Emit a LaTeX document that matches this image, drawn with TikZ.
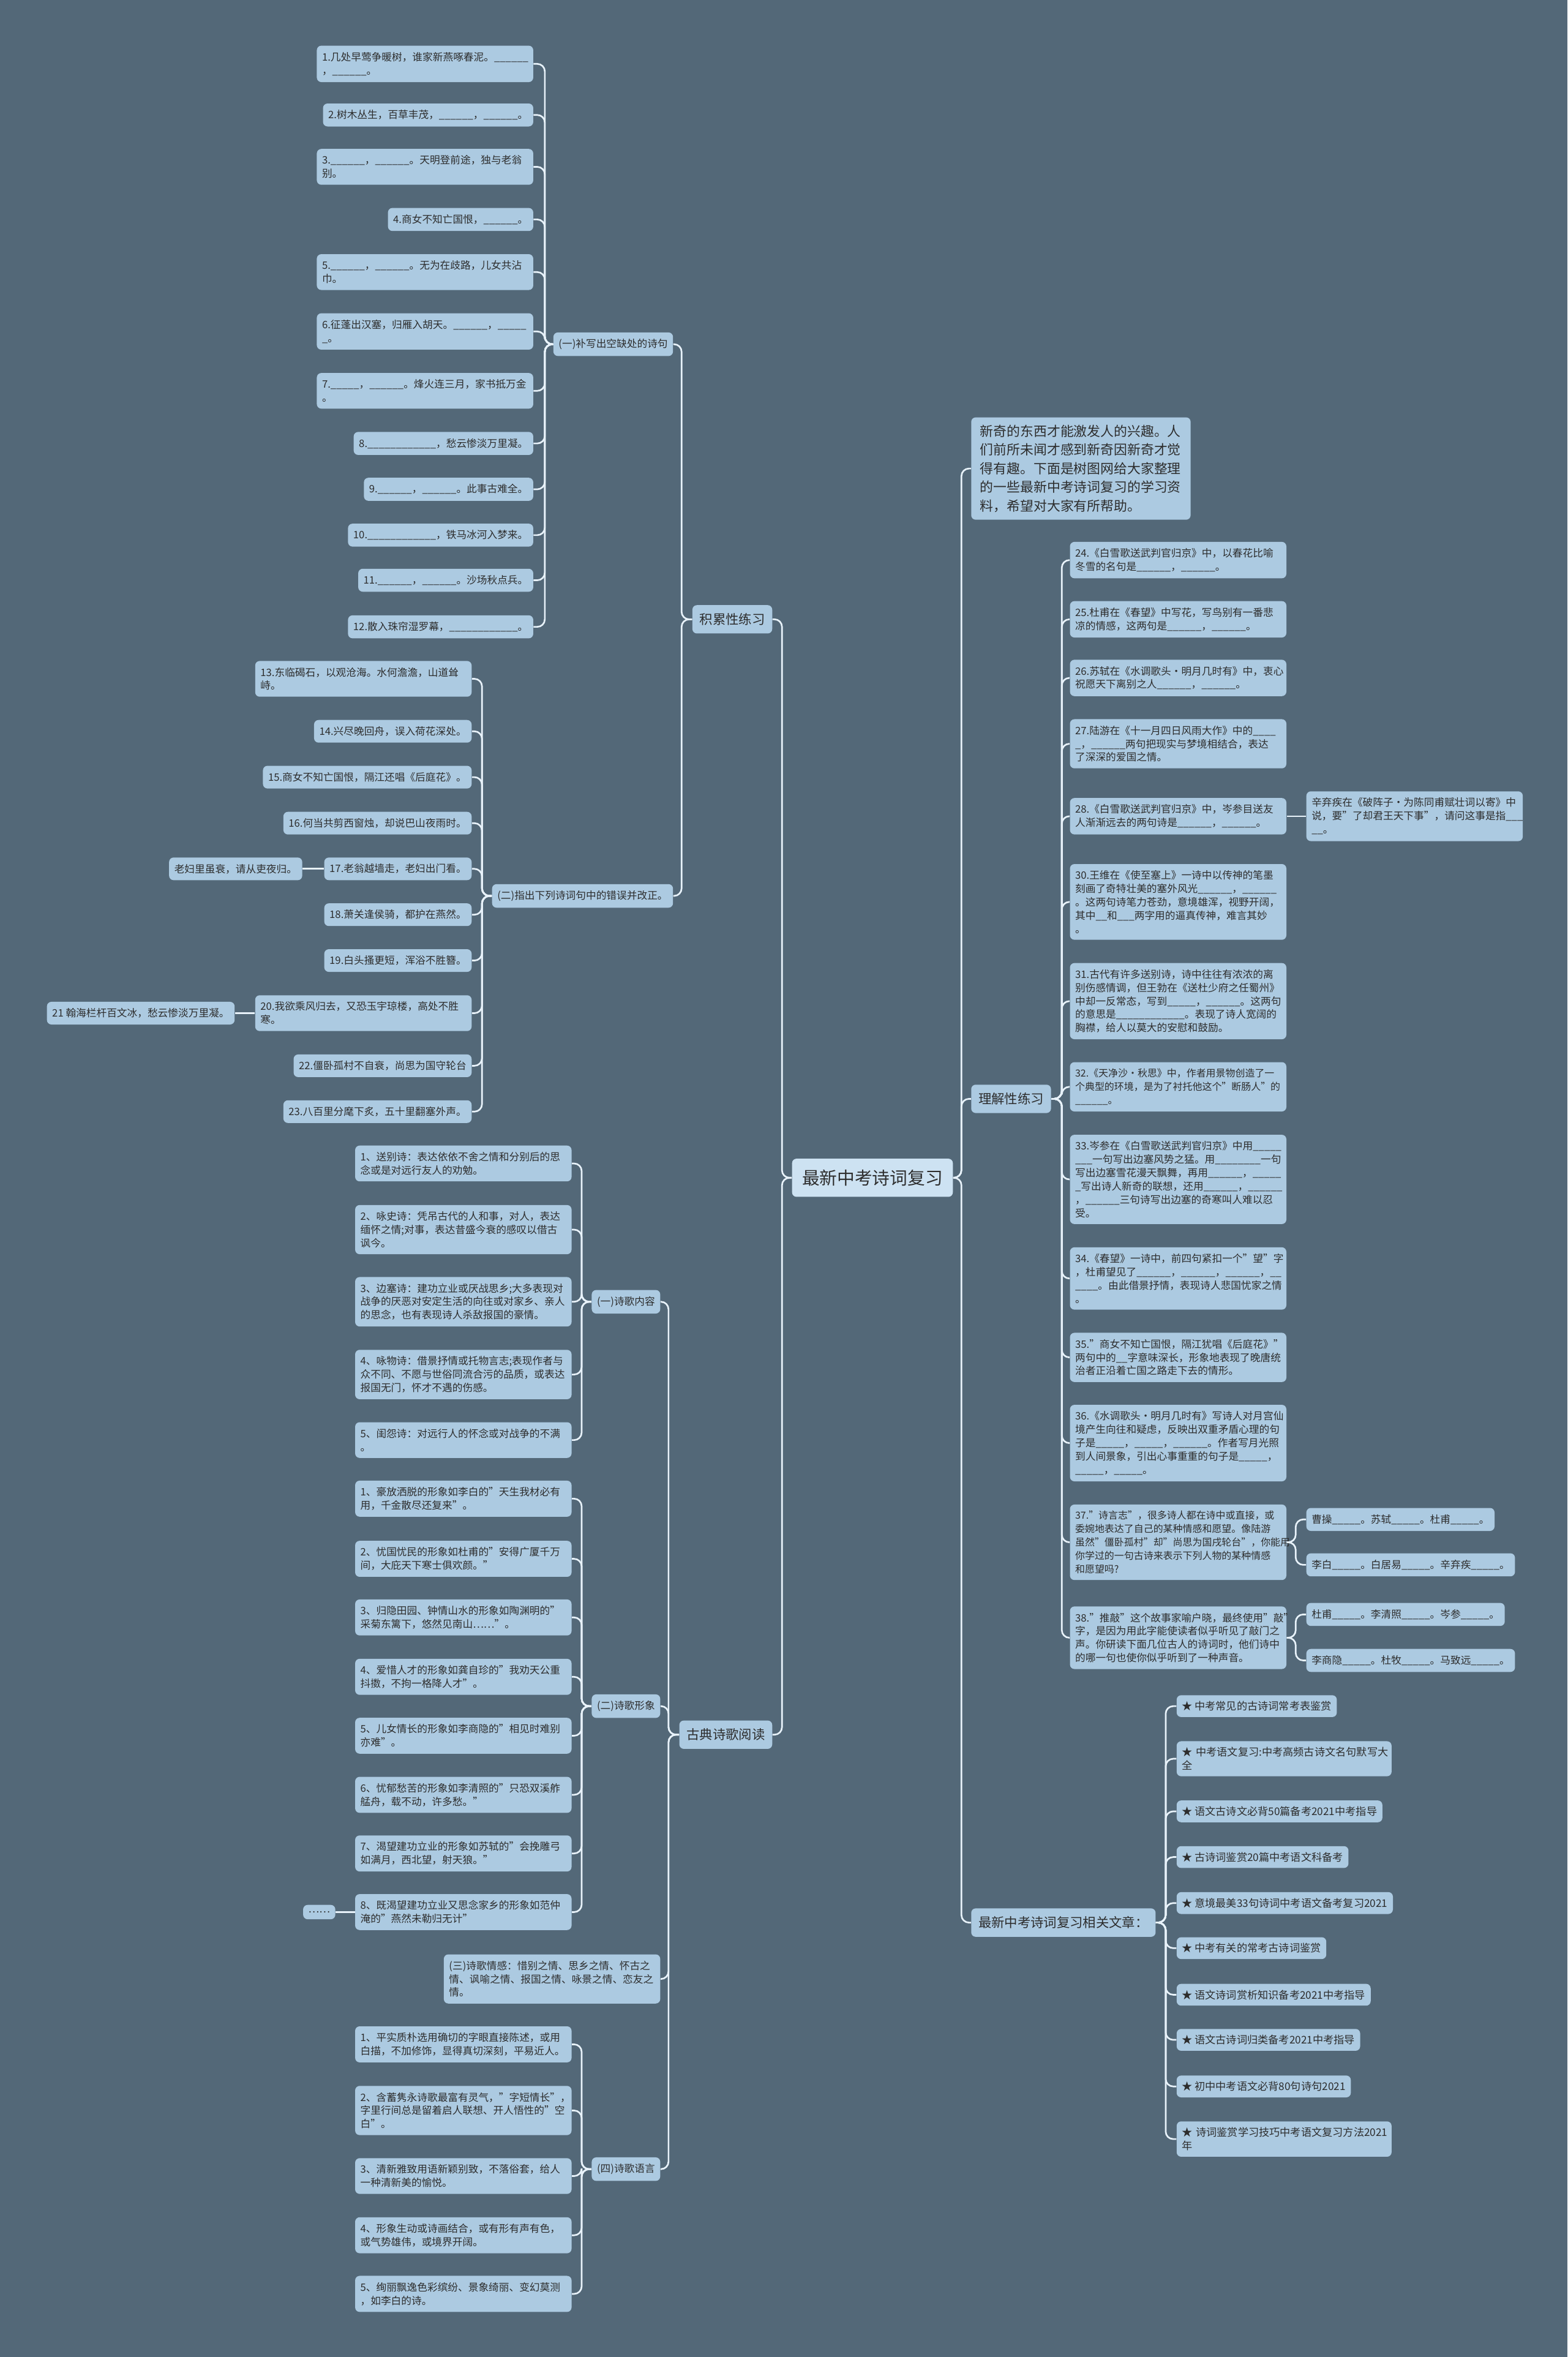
\documentclass[tikz,border=0pt]{standalone}
\usepackage{fontspec}
\setmainfont{Noto Sans CJK SC}
\definecolor{bgc}{RGB}{83,104,120}
\definecolor{boxc}{RGB}{172,202,225}
\definecolor{rootc}{RGB}{205,226,242}
\definecolor{linec}{RGB}{232,242,250}
\definecolor{txtc}{RGB}{45,45,45}
\tikzset{
	box/.style={fill=boxc, text=txtc, rounded corners=3pt, align=left, inner xsep=3.5pt, inner ysep=4.3pt, font=\fontsize{6.8}{8.9}\selectfont},
	wide/.style={box, text width=137pt},
	tight/.style={font=\fontsize{6.5}{8.9}\selectfont},
	topic/.style={box, inner xsep=4.8pt, inner ysep=5.4pt, font=\fontsize{8.7}{11}\selectfont},
	root/.style={box, fill=rootc, inner xsep=6.7pt, inner ysep=7.3pt, font=\fontsize{11.7}{14}\selectfont},
	prebox/.style={box, text width=134pt, inner xsep=6pt, inner ysep=5pt, font=\fontsize{8.9}{12.4}\selectfont},
	linkbox/.style={box, inner ysep=4pt, font=\fontsize{7}{9}\selectfont},
	conn/.style={color=linec, line width=1.1pt},
	lb/.style={rounded corners=5pt, to path={-- ++(-#1,0) |- (\tikztotarget)}},
	rb/.style={rounded corners=5pt, to path={-- ++(#1,0) |- (\tikztotarget)}},
	lb/.default=6.5, rb/.default=6.5,
}
\begin{document}
\catcode`\_=12
\begin{tikzpicture}[x=1pt, y=-1pt]
	\fill[bgc] (0,0) rectangle (1043,1568);
	\useasboundingbox (0,0) rectangle (1043,1568);

	\node[root] (zx) at (580.5,783.5) {最新中考诗词复习};
	\node[topic, anchor=east] (jl) at (514,412) {积累性练习};
	\node[topic, anchor=east] (gd) at (514,1154) {古典诗歌阅读};
	\node[prebox, anchor=west] (qy) at (646,311.7) {新奇的东西才能激发人的兴趣。人\\们前所未闻才感到新奇因新奇才觉\\得有趣。下面是树图网给大家整理\\的一些最新中考诗词复习的学习资\\料，希望对大家有所帮助。};
	\node[topic, anchor=west] (lj) at (646,731) {理解性练习};
	\node[topic, anchor=west] (xg) at (646,1279) {最新中考诗词复习相关文章：};

	\node[box, anchor=east] (bx) at (448,229) {(一)补写出空缺处的诗句};
	\node[box, anchor=east] (zc) at (448,596) {(二)指出下列诗词句中的错误并改正。};

	\node[wide, anchor=east] (b1) at (355,42.5) {1.几处早莺争暖树，谁家新燕啄春泥。______\\，______。};
	\node[box, anchor=east] (b2) at (355,76.5) {2.树木丛生，百草丰茂，______，______。};
	\node[wide, anchor=east] (b3) at (355,111) {3.______，______。天明登前途，独与老翁\\别。};
	\node[box, anchor=east] (b4) at (355,146) {4.商女不知亡国恨，______。};
	\node[wide, anchor=east] (b5) at (355,181) {5.______，______。无为在歧路，儿女共沾\\巾。};
	\node[wide, anchor=east] (b6) at (355,220.5) {6.征蓬出汉塞，归雁入胡天。______，_____\\_。};
	\node[wide, anchor=east] (b7) at (355,260) {7._____，______。烽火连三月，家书抵万金\\。};
	\node[box, anchor=east] (b8) at (355,295) {8.____________，愁云惨淡万里凝。};
	\node[box, anchor=east] (b9) at (355,325.5) {9.______，______。此事古难全。};
	\node[box, anchor=east] (b10) at (355,356) {10.____________，铁马冰河入梦来。};
	\node[box, anchor=east] (b11) at (355,386) {11.______，______。沙场秋点兵。};
	\node[box, anchor=east] (b12) at (355,417) {12.散入珠帘湿罗幕，____________。};

	\node[wide, anchor=east] (z13) at (314,451.6) {13.东临碣石，以观沧海。水何澹澹，山道耸\\峙。};
	\node[box, anchor=east] (z14) at (314,486.5) {14.兴尽晚回舟，误入荷花深处。};
	\node[box, anchor=east] (z15) at (314,517) {15.商女不知亡国恨，隔江还唱《后庭花》。};
	\node[box, anchor=east] (z16) at (314,547.6) {16.何当共剪西窗烛，却说巴山夜雨时。};
	\node[box, anchor=east] (z17) at (314,578) {17.老翁越墙走，老妇出门看。};
	\node[box, anchor=east] (k17) at (201.3,578) {老妇里虽衰，请从吏夜归。};
	\node[box, anchor=east] (z18) at (314,608.5) {18.萧关逢侯骑，都护在燕然。};
	\node[box, anchor=east] (z19) at (314,639) {19.白头搔更短，浑浴不胜簪。};
	\node[wide, anchor=east] (z20) at (314,674) {20.我欲乘风归去，又恐玉宇琼楼，高处不胜\\寒。};
	\node[box, anchor=east] (k20) at (156.3,674) {21 翰海栏杆百文冰，愁云惨淡万里凝。};
	\node[box, anchor=east] (z22) at (314,709) {22.僵卧孤村不自衰，尚思为国守轮台};
	\node[box, anchor=east] (z23) at (314,739.5) {23.八百里分麾下炙，五十里翻塞外声。};

	\node[box, anchor=east] (nr) at (439.5,866) {(一)诗歌内容};
	\node[box, anchor=east] (xx) at (439.5,1135) {(二)诗歌形象};
	\node[wide, anchor=east] (qg) at (439.5,1316.5) {(三)诗歌情感：惜别之情、思乡之情、怀古之\\情、讽喻之情、报国之情、咏景之情、恋友之\\情。};
	\node[box, anchor=east] (yy) at (439.5,1443) {(四)诗歌语言};

	\node[wide, anchor=east] (n1) at (380.5,774) {1、送别诗：表达依依不舍之情和分别后的思\\念或是对远行友人的劝勉。};
	\node[wide, anchor=east] (n2) at (380.5,818) {2、咏史诗：凭吊古代的人和事，对人，表达\\缅怀之情;对事，表达昔盛今衰的感叹以借古\\讽今。};
	\node[wide, anchor=east] (n3) at (380.5,866) {3、边塞诗：建功立业或厌战思乡;大多表现对\\战争的厌恶对安定生活的向往或对家乡、亲人\\的思念，也有表现诗人杀敌报国的豪情。};
	\node[wide, anchor=east] (n4) at (380.5,914.4) {4、咏物诗：借景抒情或托物言志;表现作者与\\众不同、不愿与世俗同流合污的品质，或表达\\报国无门，怀才不遇的伤感。};
	\node[wide, anchor=east] (n5) at (380.5,958) {5、闺怨诗：对远行人的怀念或对战争的不满\\。};

	\node[wide, anchor=east] (x1) at (380.5,997) {1、豪放洒脱的形象如李白的"天生我材必有\\用，千金散尽还复来"。};
	\node[wide, anchor=east] (x2) at (380.5,1037) {2、忧国忧民的形象如杜甫的"安得广厦千万\\间，大庇天下寒士俱欢颜。"};
	\node[wide, anchor=east] (x3) at (380.5,1076) {3、归隐田园、钟情山水的形象如陶渊明的"\\采菊东篱下，悠然见南山……"。};
	\node[wide, anchor=east] (x4) at (380.5,1115.5) {4、爱惜人才的形象如龚自珍的"我劝天公重\\抖擞，不拘一格降人才"。};
	\node[wide, anchor=east] (x5) at (380.5,1154.7) {5、儿女情长的形象如李商隐的"相见时难别\\亦难"。};
	\node[wide, anchor=east] (x6) at (380.5,1194) {6、忧郁愁苦的形象如李清照的"只恐双溪舴\\艋舟，载不动，许多愁。"};
	\node[wide, anchor=east] (x7) at (380.5,1233) {7、渴望建功立业的形象如苏轼的"会挽雕弓\\如满月，西北望，射天狼。"};
	\node[wide, anchor=east] (x8) at (380.5,1272) {8、既渴望建功立业又思念家乡的形象如范仲\\淹的"燕然未勒归无计"};
	\node[box, anchor=east] (xd) at (223.3,1272) {……};

	\node[wide, anchor=east] (y1) at (380.5,1360) {1、平实质朴选用确切的字眼直接陈述，或用\\白描，不加修饰，显得真切深刻，平易近人。};
	\node[wide, anchor=east] (y2) at (380.5,1404) {2、含蓄隽永诗歌最富有灵气，"字短情长"，\\字里行间总是留着启人联想、开人悟性的"空\\白"。};
	\node[wide, anchor=east] (y3) at (380.5,1447.6) {3、清新雅致用语新颖别致，不落俗套，给人\\一种清新美的愉悦。};
	\node[wide, anchor=east] (y4) at (380.5,1487) {4、形象生动或诗画结合，或有形有声有色，\\或气势雄伟，或境界开阔。};
	\node[wide, anchor=east] (y5) at (380.5,1526) {5、绚丽飘逸色彩缤纷、景象绮丽、变幻莫测\\，如李白的诗。};

	\node[wide, anchor=west] (l24) at (711.7,372.6) {24.《白雪歌送武判官归京》中，以春花比喻\\冬雪的名句是______，______。};
	\node[wide, anchor=west] (l25) at (711.7,412) {25.杜甫在《春望》中写花，写鸟别有一番悲\\凉的情感，这两句是______，______。};
	\node[wide, anchor=west] (l26) at (711.7,451) {26.苏轼在《水调歌头·明月几时有》中，衷心\\祝愿天下离别之人______，______。};
	\node[wide, anchor=west] (l27) at (711.7,494.8) {27.陆游在《十一月四日风雨大作》中的____\\_，______两句把现实与梦境相结合，表达\\了深深的爱国之情。};
	\node[wide, anchor=west] (l28) at (711.7,543) {28.《白雪歌送武判官归京》中，岑参目送友\\人渐渐远去的两句诗是______，______。};
	\node[wide, anchor=west] (l28a) at (869,543) {辛弃疾在《破阵子·为陈同甫赋壮词以寄》中\\说，要"了却君王天下事"，请问这事是指___\\__。};
	\node[wide, anchor=west] (l30) at (711.7,600) {30.王维在《使至塞上》一诗中以传神的笔墨\\刻画了奇特壮美的塞外风光______，______\\。这两句诗笔力苍劲，意境雄浑，视野开阔，\\其中__和___两字用的逼真传神，难言其妙\\。};
	\node[wide, anchor=west] (l31) at (711.7,666) {31.古代有许多送别诗，诗中往往有浓浓的离\\别伤感情调，但王勃在《送杜少府之任蜀州》\\中却一反常态，写到_____，______。这两句\\的意思是____________。表现了诗人宽阔的\\胸襟，给人以莫大的安慰和鼓励。};
	\node[wide, tight, anchor=west] (l32) at (711.7,723) {32.《天净沙·秋思》中，作者用景物创造了一\\个典型的环境，是为了衬托他这个"断肠人"的\\______。};
	\node[wide, anchor=west] (l33) at (711.7,784.6) {33.岑参在《白雪歌送武判官归京》中用_____\\___一句写出边塞风势之猛。用________一句\\写出边塞雪花漫天飘舞，再用______，_____\\_写出诗人新奇的联想，还用______，______\\，______三句诗写出边塞的奇寒叫人难以忍\\受。};
	\node[wide, anchor=west] (l34) at (711.7,850.5) {34.《春望》一诗中，前四句紧扣一个"望"字\\，杜甫望见了______，______，______，__\\____。由此借景抒情，表现诗人悲国忧家之情\\。};
	\node[wide, anchor=west] (l35) at (711.7,903) {35."商女不知亡国恨，隔江犹唱《后庭花》"\\两句中的__字意味深长，形象地表现了晚唐统\\治者正沿着亡国之路走下去的情形。};
	\node[wide, anchor=west] (l36) at (711.7,960) {36.《水调歌头·明月几时有》写诗人对月宫仙\\境产生向往和疑虑，反映出双重矛盾心理的句\\子是_____，_____，______。作者写月光照\\到人间景象，引出心事重重的句子是_____，\\_____，_____。};
	\node[wide, tight, anchor=west] (l37) at (711.7,1026) {37."诗言志"，很多诗人都在诗中或直接，或\\委婉地表达了自己的某种情感和愿望。像陆游\\虽然"僵卧孤村"却"尚思为国戌轮台"，你能用\\你学过的一句古诗来表示下列人物的某种情感\\和愿望吗?};
	\node[box, anchor=west] (l37a) at (869,1010.8) {曹操_____。苏轼_____。杜甫_____。};
	\node[box, anchor=west] (l37b) at (869,1041) {李白_____。白居易_____。辛弃疾_____。};
	\node[wide, anchor=west] (l38) at (711.7,1089.5) {38."推敲"这个故事家喻户晓，最终使用"敲"\\字，是因为用此字能使读者似乎听见了敲门之\\声。你研读下面几位古人的诗词时，他们诗中\\的哪一句也使你似乎听到了一种声音。};
	\node[box, anchor=west] (l38a) at (869,1074) {杜甫_____。李清照_____。岑参_____。};
	\node[box, anchor=west] (l38b) at (869,1104.6) {李商隐_____。杜牧_____。马致远_____。};

	\node[linkbox, anchor=west] (s1) at (782.7,1135) {★~中考常见的古诗词常考表鉴赏};
	\node[linkbox, anchor=west, text width=136pt] (s2) at (782.7,1170) {★~中考语文复习:中考高频古诗文名句默写大\\全};
	\node[linkbox, anchor=west] (s3) at (782.7,1205) {★~语文古诗文必背50篇备考2021中考指导};
	\node[linkbox, anchor=west] (s4) at (782.7,1235.4) {★~古诗词鉴赏20篇中考语文科备考};
	\node[linkbox, anchor=west] (s5) at (782.7,1266) {★~意境最美33句诗词中考语文备考复习2021};
	\node[linkbox, anchor=west] (s6) at (782.7,1296) {★~中考有关的常考古诗词鉴赏};
	\node[linkbox, anchor=west] (s7) at (782.7,1327) {★~语文诗词赏析知识备考2021中考指导};
	\node[linkbox, anchor=west] (s8) at (782.7,1357) {★~语文古诗词归类备考2021中考指导};
	\node[linkbox, anchor=west] (s9) at (782.7,1388) {★~初中中考语文必背80句诗句2021};
	\node[linkbox, anchor=west, text width=136pt] (s10) at (782.7,1423) {★~诗词鉴赏学习技巧中考语文复习方法2021\\年};

	\draw[conn]
		(zx.west) edge[lb] (jl.east)
		(zx.west) edge[lb] (gd.east)
		(zx.east) edge[rb=5.5] (qy.west)
		(zx.east) edge[rb=5.5] (lj.west)
		(zx.east) edge[rb=5.5] (xg.west)
		(jl.west) edge[lb=7] (bx.east)
		(jl.west) edge[lb=7] (zc.east)
		(gd.west) edge[lb=7] (nr.east)
		(gd.west) edge[lb=7] (xx.east)
		(gd.west) edge[lb=7] (qg.east)
		(gd.west) edge[lb=7] (yy.east);
	\draw[conn]
		(bx.west) edge[lb=5.5] (b1.east)
		(bx.west) edge[lb=5.5] (b2.east)
		(bx.west) edge[lb=5.5] (b3.east)
		(bx.west) edge[lb=5.5] (b4.east)
		(bx.west) edge[lb=5.5] (b5.east)
		(bx.west) edge[lb=5.5] (b6.east)
		(bx.west) edge[lb=5.5] (b7.east)
		(bx.west) edge[lb=5.5] (b8.east)
		(bx.west) edge[lb=5.5] (b9.east)
		(bx.west) edge[lb=5.5] (b10.east)
		(bx.west) edge[lb=5.5] (b11.east)
		(bx.west) edge[lb=5.5] (b12.east);
	\draw[conn]
		(zc.west) edge[lb] (z13.east)
		(zc.west) edge[lb] (z14.east)
		(zc.west) edge[lb] (z15.east)
		(zc.west) edge[lb] (z16.east)
		(zc.west) edge[lb] (z17.east)
		(zc.west) edge[lb] (z18.east)
		(zc.west) edge[lb] (z19.east)
		(zc.west) edge[lb] (z20.east)
		(zc.west) edge[lb] (z22.east)
		(zc.west) edge[lb] (z23.east)
		(z17.west) edge (k17.east)
		(z20.west) edge (k20.east);
	\draw[conn]
		(nr.west) edge[lb] (n1.east)
		(nr.west) edge[lb] (n2.east)
		(nr.west) edge[lb] (n3.east)
		(nr.west) edge[lb] (n4.east)
		(nr.west) edge[lb] (n5.east)
		(xx.west) edge[lb] (x1.east)
		(xx.west) edge[lb] (x2.east)
		(xx.west) edge[lb] (x3.east)
		(xx.west) edge[lb] (x4.east)
		(xx.west) edge[lb] (x5.east)
		(xx.west) edge[lb] (x6.east)
		(xx.west) edge[lb] (x7.east)
		(xx.west) edge[lb] (x8.east)
		(x8.west) edge (xd.east)
		(yy.west) edge[lb] (y1.east)
		(yy.west) edge[lb] (y2.east)
		(yy.west) edge[lb] (y3.east)
		(yy.west) edge[lb] (y4.east)
		(yy.west) edge[lb] (y5.east);
	\draw[conn]
		(lj.east) edge[rb=7] (l24.west)
		(lj.east) edge[rb=7] (l25.west)
		(lj.east) edge[rb=7] (l26.west)
		(lj.east) edge[rb=7] (l27.west)
		(lj.east) edge[rb=7] (l28.west)
		(lj.east) edge[rb=7] (l30.west)
		(lj.east) edge[rb=7] (l31.west)
		(lj.east) edge[rb=7] (l32.west)
		(lj.east) edge[rb=7] (l33.west)
		(lj.east) edge[rb=7] (l34.west)
		(lj.east) edge[rb=7] (l35.west)
		(lj.east) edge[rb=7] (l36.west)
		(lj.east) edge[rb=7] (l37.west)
		(lj.east) edge[rb=7] (l38.west)
		(l28.east) edge (l28a.west)
		(l37.east) edge[rb=6] (l37a.west)
		(l37.east) edge[rb=6] (l37b.west)
		(l38.east) edge[rb=6] (l38a.west)
		(l38.east) edge[rb=6] (l38b.west);
	\draw[conn]
		(xg.east) edge[rb] (s1.west)
		(xg.east) edge[rb] (s2.west)
		(xg.east) edge[rb] (s3.west)
		(xg.east) edge[rb] (s4.west)
		(xg.east) edge[rb] (s5.west)
		(xg.east) edge[rb] (s6.west)
		(xg.east) edge[rb] (s7.west)
		(xg.east) edge[rb] (s8.west)
		(xg.east) edge[rb] (s9.west)
		(xg.east) edge[rb] (s10.west);
\end{tikzpicture}
\end{document}
